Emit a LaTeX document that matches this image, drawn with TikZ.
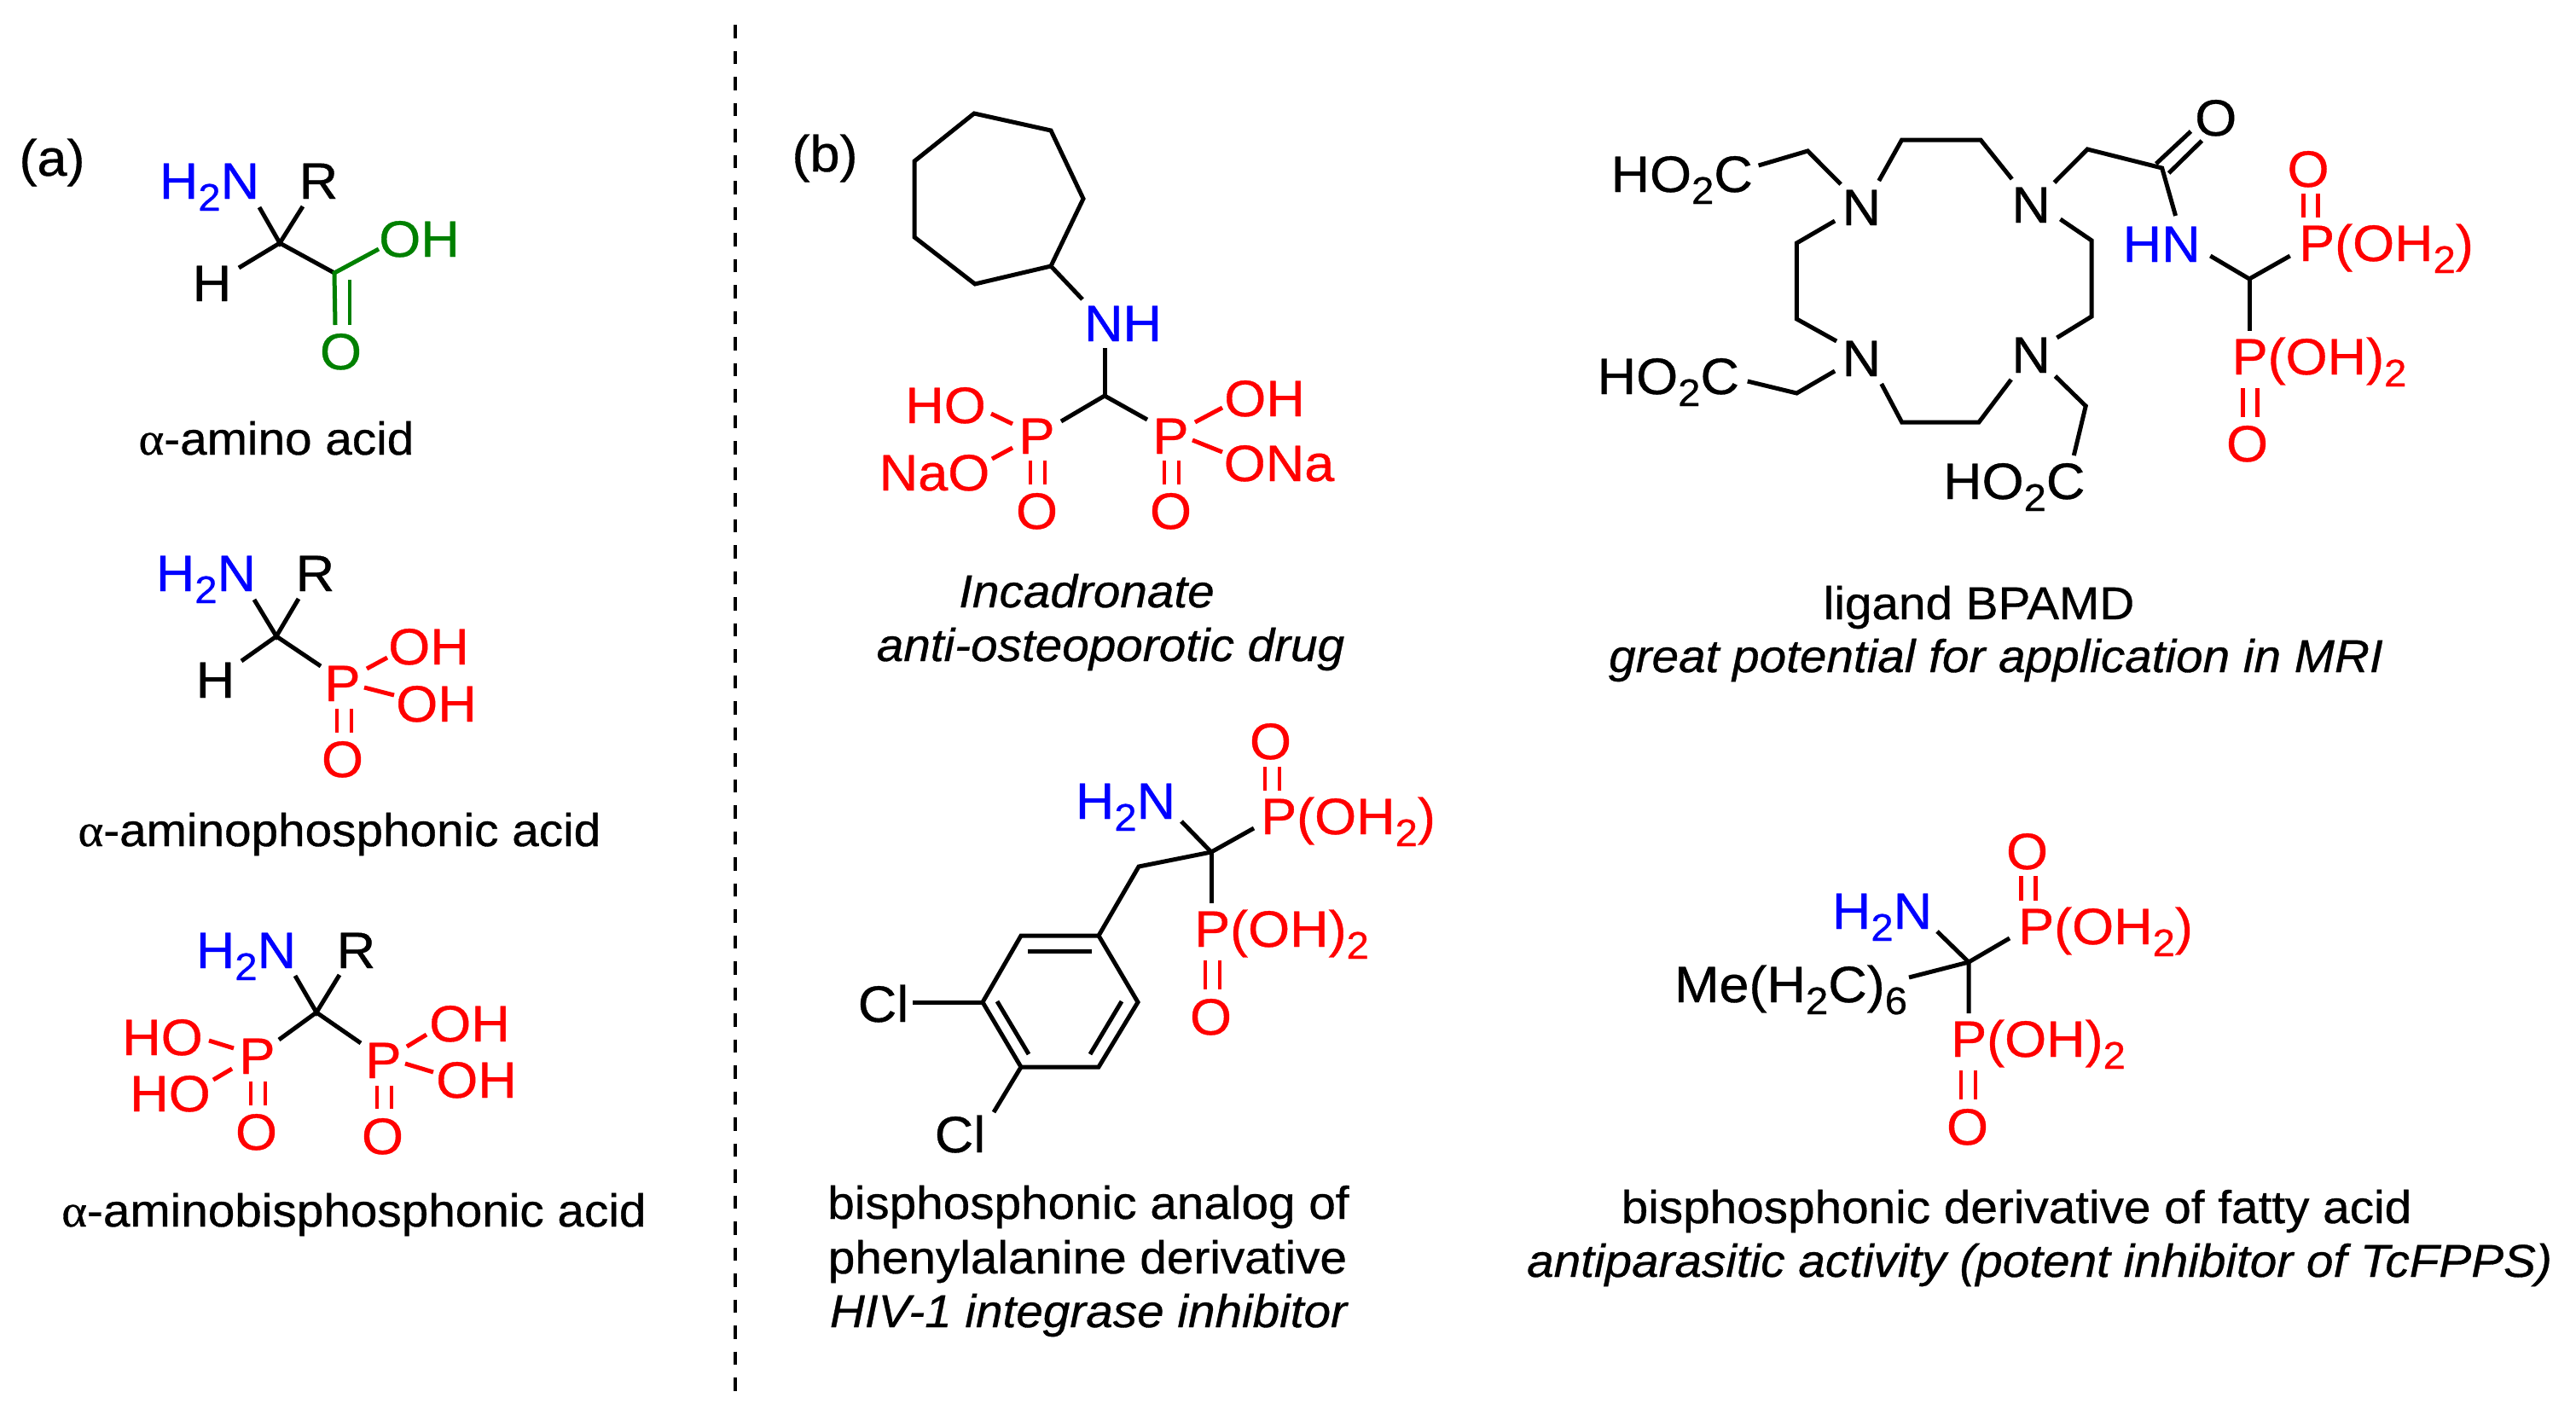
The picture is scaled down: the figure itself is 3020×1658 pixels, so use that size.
\documentclass[tikz,border=0pt]{standalone}
\usepackage{fontspec}
\setmainfont{Liberation Sans}[FakeStretch=1.05,FakeBold=0.6]
\newfontfamily\greekfont{Liberation Serif}[FakeStretch=1.05,FakeBold=0.6]
\definecolor{pred}{RGB}{255,0,0}
\definecolor{nblue}{RGB}{0,0,255}
\definecolor{ogreen}{RGB}{0,128,0}
\newcommand{\subn}[1]{\raisebox{-14pt}{\fontsize{45}{45}\selectfont #1}}
\newcommand{\alphachar}{{\greekfont α}}
\tikzset{
  atom/.style={font=\fontsize{60}{60}\selectfont,inner sep=0pt,anchor=base,xshift=-1.5pt},
  captxt/.style={font=\fontsize{54}{60}\selectfont,inner sep=0pt,anchor=base},
  capit/.style={font=\fontsize{54}{60}\selectfont\itshape,inner sep=0pt,anchor=base},
  bond/.style={line width=5pt,line join=miter},
  thinbond/.style={line width=4.5pt},
  dbl/.style={line width=4.5pt,double=white,double distance=12.5pt},
  sep/.style={line width=4pt,dash pattern=on 15.5pt off 15pt}
}
\begin{document}
\begin{tikzpicture}[x=1pt,y=-1pt]
\useasboundingbox (0,0) rectangle (3020,1658);
\fill[white] (0,0) rectangle (3020,1658);
% separator
\coordinate (sepa) at (862,29);
\coordinate (sepb) at (862,1636);
\draw[sep] (sepa) -- (sepb);
\node[atom,xshift=1.5pt] (la) at (61,206) {(a)};
\node[atom,xshift=1.5pt] (lb) at (967,201) {(b)};

% --- alpha-amino acid
\node[atom,text=nblue] (aN) at (247,233) {H\subn{2}N};
\node[atom] (aR) at (375,233) {R};
\node[atom] (aH) at (250,353) {H};
\node[atom,text=ogreen] (aOH) at (493,301) {OH};
\node[atom,text=ogreen] (aO) at (401,433) {O};
\coordinate (ac) at (328,285);
\coordinate (an) at (304,243);
\coordinate (ar) at (355,242);
\coordinate (ah) at (280,314);
\coordinate (ac2) at (392,320);
\coordinate (aoh) at (444,292);
\coordinate (ao1) at (393,381);
\coordinate (ad1) at (410,328);
\coordinate (ad2) at (410,381);
\draw[bond] (an) -- (ac) -- (ar);
\draw[bond] (ah) -- (ac) -- (ac2);
\draw[bond,ogreen] (aoh) -- (ac2) -- (ao1);
\draw[thinbond,ogreen] (ad1) -- (ad2);
\node[captxt] (acap) at (324,533) {\alphachar-amino acid};

% --- alpha-aminophosphonic acid
\node[atom,text=nblue] (bN) at (243,693) {H\subn{2}N};
\node[atom] (bR) at (371,693) {R};
\node[atom] (bH) at (254,818) {H};
\node[atom,text=pred] (bP) at (403,822) {P};
\node[atom,text=pred] (bOH1) at (504,779) {OH};
\node[atom,text=pred] (bOH2) at (513,846) {OH};
\node[atom,text=pred] (bO) at (403,911) {O};
\coordinate (bc) at (324,746);
\coordinate (bn) at (298,703);
\coordinate (br) at (350,702);
\coordinate (bh) at (283,775);
\coordinate (bp) at (376,781);
\coordinate (bo1a) at (430,784);
\coordinate (bo1b) at (454,771);
\coordinate (bo2a) at (427,806);
\coordinate (bo2b) at (462,815);
\coordinate (bda) at (403.5,831);
\coordinate (bdb) at (403.5,859);
\draw[bond] (bn) -- (bc) -- (br);
\draw[bond] (bh) -- (bc) -- (bp);
\draw[bond,pred] (bo1a) -- (bo1b);
\draw[bond,pred] (bo2a) -- (bo2b);
\draw[dbl,pred] (bda) -- (bdb);
\node[captxt] (bcap) at (398,992) {\alphachar-aminophosphonic acid};

% --- alpha-aminobisphosphonic acid
\node[atom,text=nblue] (cN) at (290,1135) {H\subn{2}N};
\node[atom] (cR) at (419,1135) {R};
\node[atom,text=pred] (cP1) at (303,1259) {P};
\node[atom,text=pred] (cP2) at (451,1264) {P};
\node[atom,text=pred] (cHO1) at (192,1237) {HO};
\node[atom,text=pred] (cHO2) at (201,1303) {HO};
\node[atom,text=pred] (cOH1) at (552,1221) {OH};
\node[atom,text=pred] (cOH2) at (560,1287) {OH};
\node[atom,text=pred] (cO1) at (302,1348) {O};
\node[atom,text=pred] (cO2) at (450,1353) {O};
\coordinate (cc) at (371,1187);
\coordinate (cn) at (346,1144);
\coordinate (cr) at (398,1143);
\coordinate (cp1) at (327,1219);
\coordinate (cp2) at (423,1223);
\coordinate (ch1a) at (245,1220);
\coordinate (ch1b) at (274,1229);
\coordinate (ch2a) at (272,1253);
\coordinate (ch2b) at (250,1266);
\coordinate (ch3a) at (477,1227);
\coordinate (ch3b) at (500,1213);
\coordinate (ch4a) at (475,1247);
\coordinate (ch4b) at (508,1257);
\coordinate (cd1a) at (302.5,1268);
\coordinate (cd1b) at (302.5,1296);
\coordinate (cd2a) at (450.5,1273);
\coordinate (cd2b) at (450.5,1300);
\draw[bond] (cn) -- (cc) -- (cr);
\draw[bond] (cp1) -- (cc) -- (cp2);
\draw[bond,pred] (ch1a) -- (ch1b);
\draw[bond,pred] (ch2a) -- (ch2b);
\draw[bond,pred] (ch3a) -- (ch3b);
\draw[bond,pred] (ch4a) -- (ch4b);
\draw[dbl,pred] (cd1a) -- (cd1b);
\draw[dbl,pred] (cd2a) -- (cd2b);
\node[captxt] (ccap) at (415,1438) {\alphachar-aminobisphosphonic acid};

% --- incadronate
\coordinate (d1) at (1142,133);
\coordinate (d2) at (1232,153);
\coordinate (d3) at (1270,233);
\coordinate (d4) at (1232,312);
\coordinate (d5) at (1143,333);
\coordinate (d6) at (1072,278);
\coordinate (d7) at (1072,189);
\draw[bond] (d1) -- (d2) -- (d3) -- (d4) -- (d5) -- (d6) -- (d7) -- cycle;
\node[atom,text=nblue] (dNH) at (1318,400) {NH};
\node[atom,text=pred] (dP1) at (1217,532) {P};
\node[atom,text=pred] (dP2) at (1374,532) {P};
\node[atom,text=pred] (dHO) at (1110,496) {HO};
\node[atom,text=pred] (dNaO) at (1097,575) {NaO};
\node[atom,text=pred] (dOH) at (1484,488) {OH};
\node[atom,text=pred] (dONa) at (1501,564) {ONa};
\node[atom,text=pred] (dO1) at (1217,620) {O};
\node[atom,text=pred] (dO2) at (1374,620) {O};
\coordinate (dn) at (1269,351);
\coordinate (dn2) at (1295,408);
\coordinate (dc) at (1295,464);
\coordinate (dp1) at (1244,494);
\coordinate (dp2) at (1345,492);
\coordinate (dh1a) at (1162,485);
\coordinate (dh1b) at (1187,497);
\coordinate (dh2a) at (1187,525);
\coordinate (dh2b) at (1163,538);
\coordinate (dh3a) at (1401,495);
\coordinate (dh3b) at (1433,478);
\coordinate (dh4a) at (1398,516);
\coordinate (dh4b) at (1433,530);
\coordinate (dd1a) at (1216.5,540);
\coordinate (dd1b) at (1216.5,568);
\coordinate (dd2a) at (1373.5,540);
\coordinate (dd2b) at (1373.5,568);
\draw[bond] (d4) -- (dn);
\draw[bond] (dn2) -- (dc);
\draw[bond] (dp1) -- (dc) -- (dp2);
\draw[bond,pred] (dh1a) -- (dh1b);
\draw[bond,pred] (dh2a) -- (dh2b);
\draw[bond,pred] (dh3a) -- (dh3b);
\draw[bond,pred] (dh4a) -- (dh4b);
\draw[dbl,pred] (dd1a) -- (dd1b);
\draw[dbl,pred] (dd2a) -- (dd2b);
\node[capit] (dcap1) at (1274,712) {Incadronate};
\node[capit] (dcap2) at (1302,775) {anti-osteoporotic drug};

% --- BPAMD
\begin{scope}[x=0.9937pt,xshift=9.66pt]
\node[atom] (eN1) at (2188,264) {N};
\node[atom] (eN2) at (2388,261) {N};
\node[atom] (eN3) at (2188,441) {N};
\node[atom] (eN4) at (2388,437) {N};
\node[atom] (eA1) at (1976,225) {HO\subn{2}C};
\node[atom] (eA2) at (1960,462) {HO\subn{2}C};
\node[atom] (eA3) at (2368,585) {HO\subn{2}C};
\node[atom] (eO) at (2606,159) {O};
\node[atom,text=nblue] (eHN) at (2542,307) {HN};
\node[atom,text=pred] (eP1) at (2807,306) {P(OH\subn{2})};
\node[atom,text=pred] (eP2) at (2728,439) {P(OH)\subn{2}};
\node[atom,text=pred] (eO1) at (2715,219) {O};
\node[atom,text=pred] (eO2) at (2643,541) {O};
\coordinate (e1) at (2065,194);
\coordinate (e2) at (2123,177);
\coordinate (e3) at (2162,216);
\coordinate (e4) at (2207,212);
\coordinate (e5) at (2234,164);
\coordinate (e6) at (2327,164);
\coordinate (e7) at (2364,210);
\coordinate (e8) at (2414,214);
\coordinate (e9) at (2453,175);
\coordinate (e10) at (2541,197);
\coordinate (e11a) at (2534,192);
\coordinate (e11b) at (2575,154);
\coordinate (e12a) at (2549,203);
\coordinate (e12b) at (2588,165);
\coordinate (e13) at (2557,253);
\coordinate (e14) at (2598,300);
\coordinate (e15) at (2644,327);
\coordinate (e16) at (2692,300);
\coordinate (e17) at (2644,388);
\coordinate (e18a) at (2716.5,227);
\coordinate (e18b) at (2716.5,255);
\coordinate (e19a) at (2645,455);
\coordinate (e19b) at (2645,489);
\coordinate (e20) at (2155,259);
\coordinate (e21) at (2110,285);
\coordinate (e22) at (2110,374);
\coordinate (e23) at (2157,400);
\coordinate (e24) at (2155,435);
\coordinate (e25) at (2110,461);
\coordinate (e26) at (2052,447);
\coordinate (e27) at (2210,450);
\coordinate (e28) at (2234,495);
\coordinate (e29) at (2325,495);
\coordinate (e30) at (2363,445);
\coordinate (e31) at (2417,396);
\coordinate (e32) at (2458,371);
\coordinate (e33) at (2458,282);
\coordinate (e34) at (2421,257);
\coordinate (e35) at (2415,441);
\coordinate (e36) at (2451,476);
\coordinate (e37) at (2437,534);
\draw[bond] (e1) -- (e2) -- (e3);
\draw[bond] (e4) -- (e5) -- (e6) -- (e7);
\draw[bond] (e8) -- (e9) -- (e10) -- (e13);
\draw[bond] (e11a) -- (e11b);
\draw[bond] (e12a) -- (e12b);
\draw[bond] (e14) -- (e15) -- (e16);
\draw[bond] (e15) -- (e17);
\draw[bond] (e20) -- (e21) -- (e22) -- (e23);
\draw[bond] (e24) -- (e25) -- (e26);
\draw[bond] (e27) -- (e28) -- (e29) -- (e30);
\draw[bond] (e31) -- (e32) -- (e33) -- (e34);
\draw[bond] (e35) -- (e36) -- (e37);
\draw[dbl,pred] (e18a) -- (e18b);
\draw[dbl,pred] (e19a) -- (e19b);
\end{scope}
\node[captxt] (ecap1) at (2320,726) {ligand BPAMD};
\node[capit] (ecap2) at (2340,788) {great potential for application in MRI};

% --- phenylalanine analog
\node[atom,text=nblue] (fN) at (1321,960) {H\subn{2}N};
\node[atom,text=pred] (fP1) at (1582,978) {P(OH\subn{2})};
\node[atom,text=pred] (fP2) at (1504,1110) {P(OH)\subn{2}};
\node[atom,text=pred] (fO1) at (1491,890) {O};
\node[atom,text=pred] (fO2) at (1421,1213) {O};
\node[atom] (fCl1) at (1037,1198) {Cl};
\node[atom] (fCl2) at (1127,1351) {Cl};
\coordinate (fc) at (1420,999);
\coordinate (fn) at (1385,963);
\coordinate (fp) at (1470,971);
\coordinate (fch) at (1335,1016);
\coordinate (fdn) at (1420,1059);
\coordinate (f1) at (1288,1097);
\coordinate (f2) at (1197,1097);
\coordinate (f3) at (1152,1175);
\coordinate (f4) at (1197,1251);
\coordinate (f5) at (1288,1251);
\coordinate (f6) at (1334,1175);
\coordinate (fi1a) at (1205,1115);
\coordinate (fi1b) at (1280,1115);
\coordinate (fi2a) at (1169,1174);
\coordinate (fi2b) at (1206,1236);
\coordinate (fi3a) at (1315,1174);
\coordinate (fi3b) at (1278,1236);
\coordinate (fcl1) at (1070,1175);
\coordinate (fcl2) at (1165,1304);
\coordinate (fd1a) at (1491.5,899);
\coordinate (fd1b) at (1491.5,927);
\coordinate (fd2a) at (1421.5,1126);
\coordinate (fd2b) at (1421.5,1160);
\draw[bond] (fn) -- (fc) -- (fp);
\draw[bond] (fc) -- (fdn);
\draw[bond] (fc) -- (fch) -- (f1);
\draw[bond] (f1) -- (f2) -- (f3) -- (f4) -- (f5) -- (f6) -- cycle;
\draw[bond] (fi1a) -- (fi1b);
\draw[bond] (fi2a) -- (fi2b);
\draw[bond] (fi3a) -- (fi3b);
\draw[bond] (fcl1) -- (f3);
\draw[bond] (fcl2) -- (f4);
\draw[dbl,pred] (fd1a) -- (fd1b);
\draw[dbl,pred] (fd2a) -- (fd2b);
\node[captxt] (fcap1) at (1276,1429) {bisphosphonic analog of};
\node[captxt] (fcap2) at (1275,1493) {phenylalanine derivative};
\node[capit] (fcap3) at (1276,1556) {HIV-1 integrase inhibitor};

% --- fatty acid
\node[atom,text=nblue] (gN) at (2208,1089) {H\subn{2}N};
\node[atom,text=pred] (gP1) at (2470,1107) {P(OH\subn{2})};
\node[atom,text=pred] (gP2) at (2391,1239) {P(OH)\subn{2}};
\node[atom,text=pred] (gO1) at (2378,1019) {O};
\node[atom,text=pred] (gO2) at (2308,1342) {O};
\node[atom] (gMe) at (2101,1175) {Me(H\subn{2}C)\subn{6}};
\coordinate (gc) at (2308,1128);
\coordinate (gn) at (2271,1092);
\coordinate (gp) at (2356,1100);
\coordinate (gm) at (2238,1146);
\coordinate (gd) at (2308,1188);
\coordinate (gd1a) at (2378,1027);
\coordinate (gd1b) at (2378,1056);
\coordinate (gd2a) at (2307.5,1255);
\coordinate (gd2b) at (2307.5,1289);
\draw[bond] (gn) -- (gc) -- (gp);
\draw[bond] (gm) -- (gc) -- (gd);
\draw[dbl,pred] (gd1a) -- (gd1b);
\draw[dbl,pred] (gd2a) -- (gd2b);
\node[captxt] (gcap1) at (2364,1434) {bisphosphonic derivative of fatty acid};
\node[capit] (gcap2) at (2391,1497) {antiparasitic activity (potent inhibitor of TcFPPS)};
\end{tikzpicture}
\end{document}
